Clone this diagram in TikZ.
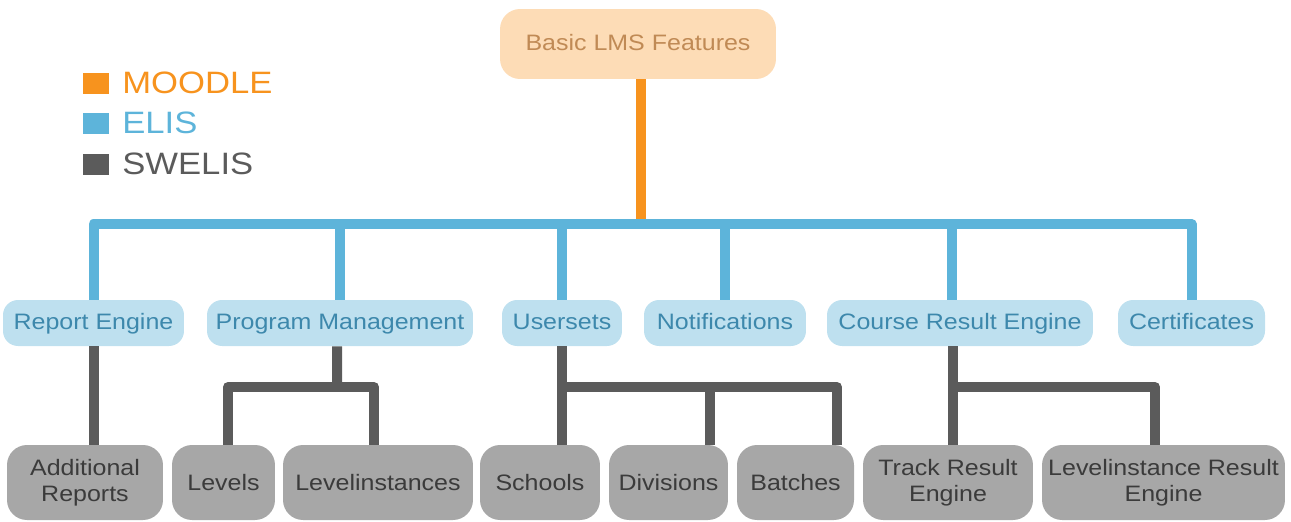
\documentclass[tikz,border=0pt]{standalone}
\usepackage{fontspec}
\setmainfont{Liberation Sans}[FakeStretch=1.12]
\usepackage{tikz}
\usetikzlibrary{positioning}

\definecolor{moodle}{HTML}{F7931E}
\definecolor{moodlefill}{HTML}{FDDCB6}
\definecolor{moodletext}{HTML}{C08A55}
\definecolor{elis}{HTML}{5DB4DA}
\definecolor{elisfill}{HTML}{BEE0EF}
\definecolor{elistext}{HTML}{3D88AC}
\definecolor{swelis}{HTML}{5B5B5B}
\definecolor{swelisfill}{HTML}{A7A7A7}
\definecolor{swelistext}{HTML}{3B3B3B}

\tikzset{
  boxfont/.style={font=\fontsize{12.7}{15}\selectfont},
  moodlebox/.style={boxfont, rectangle, rounded corners=0.4cm, fill=moodlefill, text=moodletext,
    minimum height=1.4cm, inner sep=0pt, text height=0.9em, text depth=0.18em},
  elisbox/.style={boxfont, rectangle, rounded corners=0.3cm, fill=elisfill, text=elistext,
    minimum height=0.92cm, inner sep=0pt, text height=0.9em, text depth=0.18em},
  swelisbox/.style={boxfont, rectangle, rounded corners=0.4cm, fill=swelisfill, text=swelistext,
    minimum height=1.5cm, inner sep=0pt, align=center},
  legsq/.style={rectangle, minimum width=0.52cm, minimum height=0.42cm, inner sep=0pt},
  legtxt/.style={font=\fontsize{17.6}{20}\selectfont, anchor=west, inner sep=0pt},
  bar/.style={line width=0.2cm, line join=round},
}

\begin{document}
\begin{tikzpicture}[x=0.02cm, y=-0.02cm]
		\useasboundingbox (0,0) rectangle (1291,521);
		
		% Legend
		\node[legsq, fill=moodle] (sqm) at (96,83) {};
		\node[legsq, fill=elis] (sqe) at (96,123) {};
		\node[legsq, fill=swelis] (sqs) at (96,164) {};
		\node[legtxt, text=moodle] (txm) at (122,83) {MOODLE};
		\node[legtxt, text=elis] (txe) at (122,123) {ELIS};
		\node[legtxt, text=swelis] (txs) at (122,164) {SWELIS};
		
		% Top
		\node[moodlebox, minimum width=5.52cm] (basic) at (638,44) {Basic LMS Features};
		
		% ELIS level
		\node[elisbox, minimum width=3.62cm] (report) at (93.5,323) {Report Engine};
		\node[elisbox, minimum width=5.32cm] (program) at (340,323) {Program Management};
		\node[elisbox, minimum width=2.4cm] (usersets) at (562,323) {Usersets};
		\node[elisbox, minimum width=3.24cm] (notif) at (725,323) {Notifications};
		\node[elisbox, minimum width=5.32cm] (course) at (960,323) {Course Result Engine};
		\node[elisbox, minimum width=2.94cm] (cert) at (1191.5,323) {Certificates};
		
		% SWELIS level
		\node[swelisbox, minimum width=3.12cm] (addrep) at (85,482.5) {Additional\\Reports};
		\node[swelisbox, minimum width=2.06cm] (levels) at (223.5,482.5) {Levels};
		\node[swelisbox, minimum width=3.8cm] (levinst) at (378,482.5) {Levelinstances};
		\node[swelisbox, minimum width=2.4cm] (schools) at (540,482.5) {Schools};
		\node[swelisbox, minimum width=2.38cm] (divisions) at (668.5,482.5) {Divisions};
		\node[swelisbox, minimum width=2.34cm] (batches) at (795.5,482.5) {Batches};
		\node[swelisbox, minimum width=3.4cm] (track) at (948,482.5) {Track Result\\Engine};
		\node[swelisbox, minimum width=4.86cm] (levres) at (1163.5,482.5) {Levelinstance Result\\Engine};
		
		% Connectors
		\coordinate (bus) at (641,224);
		\draw[bar, moodle] ([xshift=0.06cm]basic.south) -- ([xshift=0.06cm]basic.south |- bus);
		\draw[bar, elis] (report.north) -- (report.north |- bus) -- (cert.north |- bus) -- (cert.north);
		\draw[bar, elis] (program.north |- bus) -- (program.north);
		\draw[bar, elis] (usersets.north |- bus) -- (usersets.north);
		\draw[bar, elis] (notif.north |- bus) -- (notif.north);
		\draw[bar, elis] ([xshift=-0.16cm]course.north |- bus) -- ([xshift=-0.16cm]course.north);
		
		\coordinate (pmj) at (337,387);
		\coordinate (usj) at (562,387);
		\coordinate (crj) at (953,387);
		\draw[bar, swelis] (report.south) -- (report.south |- addrep.north);
		\draw[bar, swelis] ([xshift=-0.06cm]program.south) -- (pmj);
		\draw[bar, swelis] ([xshift=0.09cm]levels.north) |- (pmj) -| ([xshift=-0.08cm]levinst.north);
		\draw[bar, swelis] (usersets.south) -- (usersets.south |- schools.north);
		\draw[bar, swelis] (usj) -| ([xshift=0.83cm]batches.north);
		\draw[bar, swelis] ([xshift=0.83cm]divisions.north) -- ([xshift=0.83cm]divisions.north |- usj);
		\draw[bar, swelis] ([xshift=-0.14cm]course.south) -- ([xshift=-0.14cm]course.south |- track.north);
		\draw[bar, swelis] (crj) -| ([xshift=-0.17cm]levres.north);
	\end{tikzpicture}
\end{document}
